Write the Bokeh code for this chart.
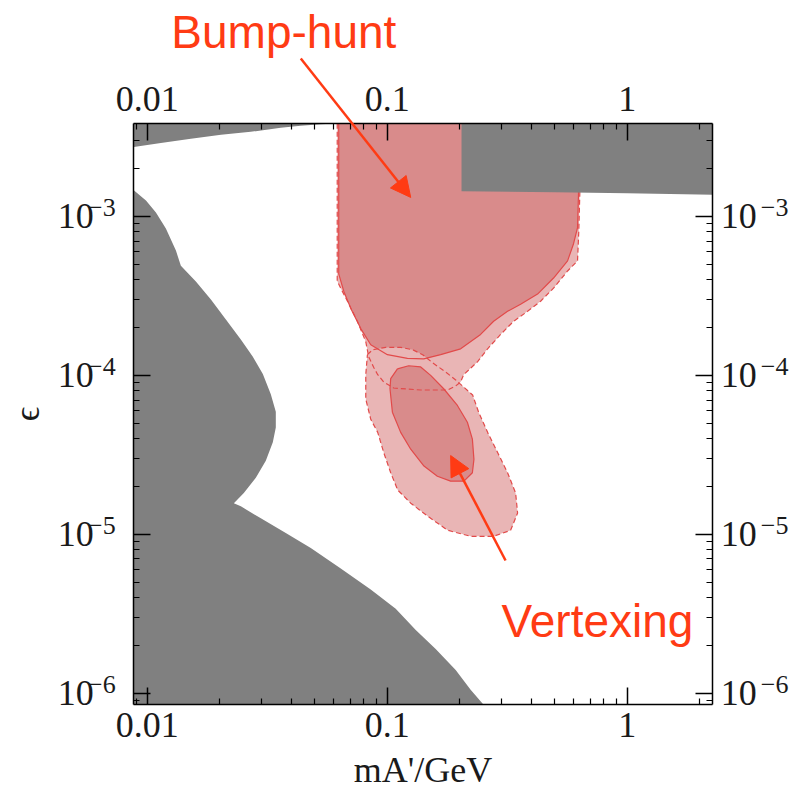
from bokeh.plotting import figure
from bokeh.models import Range1d, LogAxis, FixedTicker, Label, Arrow, NormalHead
from bokeh.embed import file_html
from bokeh.resources import INLINE

# ---- plotted box: dark-photon mass (GeV) and kinetic mixing epsilon ----
X_LO, X_HI = 0.00879, 2.274
Y_LO, Y_HI = 8.45e-7, 3.83e-3
# visible extent of the whole canvas (margins hold tick labels and notes)
view_x = (0.002447, 4.931)
view_y = (2.112e-7, 0.02287)

mass_ticks = [0.01, 0.1, 1]
mass_tick_labels = ["0.01", "0.1", "1"]
mass_minor = [0.009] + [k * 0.01 for k in range(2, 10)] + [k * 0.1 for k in range(2, 10)] + [2.0]

eps_ticks = [1e-6, 1e-5, 1e-4, 1e-3]
eps_mantissa = ["10", "10", "10", "10"]
eps_exponent = ["\u22126", "\u22125", "\u22124", "\u22123"]
eps_minor = ([9e-7] + [k * 1e-6 for k in range(2, 10)] + [k * 1e-5 for k in range(2, 10)]
             + [k * 1e-4 for k in range(2, 10)] + [2e-3, 3e-3])

# ---- existing exclusions (grey) ----
beamdump_m = [X_LO, 0.00988, 0.01087, 0.01196, 0.01317, 0.01381, 0.01595, 0.01842,
              0.02127, 0.02455, 0.02755, 0.03032, 0.03273, 0.03434, 0.03434, 0.03337, 0.03120,
              0.02835, 0.02527, 0.02296, 0.02455, 0.02975, 0.03779, 0.04803, 0.06404, 0.08537,
              0.1085, 0.1315, 0.1592, 0.1929, 0.2226, 0.2522, X_LO]
beamdump_eps = [1.46e-3, 1.26e-3, 1.06e-3, 8.4e-4, 6.1e-4, 4.9e-4, 3.9e-4, 3.0e-4,
                2.25e-4, 1.68e-4, 1.31e-4, 1.02e-4, 7.6e-5, 5.9e-5, 4.7e-5, 3.8e-5, 2.9e-5,
                2.27e-5, 1.82e-5, 1.57e-5, 1.5e-5, 1.26e-5, 1.02e-5, 8.2e-6, 6.1e-6, 4.5e-6,
                3.4e-6, 2.5e-6, 1.9e-6, 1.4e-6, 1.05e-6, Y_LO, Y_LO]

gminus2_m = [X_LO, X_LO, 0.0114, 0.0152, 0.0203, 0.0270, 0.0360, 0.0436, 0.0528, 0.0582]
gminus2_eps = [Y_HI, 2.74e-3, 2.90e-3, 3.08e-3, 3.27e-3, 3.41e-3, 3.62e-3, 3.72e-3, 3.80e-3, Y_HI]

collider_m = [0.204, 0.204, 0.50, 1.0, X_HI, X_HI]
collider_eps = [Y_HI, 1.44e-3, 1.42e-3, 1.40e-3, 1.37e-3, Y_HI]

# ---- bump-hunt reach (outer / inner contour) ----
bump_outer_m = [0.0619, 0.0619, 0.0640, 0.0683, 0.0751, 0.0814, 0.0837, 0.0879, 0.0913, 0.0967,
                0.1064, 0.1379, 0.1786, 0.1929, 0.2023, 0.2082, 0.2381, 0.2620, 0.2968, 0.3362,
                0.3845, 0.4356, 0.4933, 0.5644, 0.6209, 0.6286, 0.6347, 0.6389]
bump_outer_eps = [Y_HI, 3.92e-4, 3.54e-4, 2.93e-4, 2.19e-4, 1.63e-4, 1.31e-4, 1.12e-4, 1.01e-4, 9.09e-5,
                  8.33e-5, 8.09e-5, 8.09e-5, 8.58e-5, 9.09e-5, 1.01e-4, 1.22e-4, 1.47e-4, 1.81e-4, 2.19e-4,
                  2.53e-4, 2.93e-4, 3.54e-4, 4.54e-4, 5.26e-4, 8.15e-4, 1.40e-3, Y_HI]

bump_inner_m = [0.0628, 0.0628, 0.0659, 0.0705, 0.0776, 0.0854, 0.1002, 0.1214, 0.1419, 0.1670,
                0.2023, 0.2450, 0.2776, 0.3173, 0.3596, 0.4232, 0.4933, 0.5644, 0.5976, 0.6209,
                0.6269, 0.6269]
bump_inner_eps = [Y_HI, 4.35e-4, 3.39e-4, 2.64e-4, 1.97e-4, 1.56e-4, 1.35e-4, 1.28e-4, 1.27e-4, 1.35e-4,
                  1.47e-4, 1.81e-4, 2.19e-4, 2.53e-4, 2.80e-4, 3.25e-4, 4.10e-4, 5.26e-4, 6.74e-4, 8.52e-4,
                  1.40e-3, Y_HI]

# ---- vertexing reach (outer / inner contour) ----
vtx_outer_m = [0.0827, 0.0870, 0.0986, 0.1138, 0.1277, 0.1405, 0.1547, 0.1752, 0.1929, 0.2082,
               0.2270, 0.2404, 0.2620, 0.2884, 0.3173, 0.3428, 0.3494, 0.3267, 0.2776, 0.2227,
               0.1786, 0.1474, 0.1253, 0.1106, 0.1034, 0.0967, 0.0913, 0.0854, 0.0814, 0.0814]
vtx_outer_eps = [1.35e-4, 1.45e-4, 1.50e-4, 1.50e-4, 1.45e-4, 1.35e-4, 1.20e-4, 1.05e-4, 9.36e-5, 8.45e-5,
                 7.52e-5, 5.87e-5, 4.38e-5, 3.27e-5, 2.44e-5, 1.82e-5, 1.36e-5, 1.06e-5, 9.71e-6, 9.71e-6,
                 1.06e-5, 1.30e-5, 1.57e-5, 1.90e-5, 2.44e-5, 3.27e-5, 4.38e-5, 5.29e-5, 7.09e-5, 1.01e-4]

vtx_inner_m = [0.1103, 0.1229, 0.1379, 0.1517, 0.1719, 0.1961, 0.2158, 0.2264, 0.2298, 0.2264,
               0.2088, 0.1838, 0.1618, 0.1423, 0.1253, 0.1138, 0.1051, 0.1027, 0.1034]
vtx_inner_eps = [1.10e-4, 1.15e-4, 1.13e-4, 1.00e-4, 8.24e-5, 6.47e-5, 5.07e-5, 3.97e-5, 2.96e-5, 2.44e-5,
                 2.16e-5, 2.16e-5, 2.32e-5, 2.69e-5, 3.43e-5, 4.38e-5, 5.87e-5, 8.24e-5, 9.54e-5]

# ---- annotations ----
note_text = ["Bump-hunt", "Vertexing"]
note_m = [0.0371, 0.752]
note_eps = [0.01439, 2.83e-6]
arrow_m_start = [0.04364, 0.3113]
arrow_eps_start = [9.87e-3, 6.84e-6]
arrow_m_end = [0.1253, 0.1838]
arrow_eps_end = [1.318e-3, 3.13e-5]

GREY = "#808080"
FILL_INNER = "#D98B8B"
FILL_OUTER = "#E9B5B5"
EDGE = "#E24A4A"
NOTE = "#FF3B14"
INK = "#1a1a1a"
SERIF = "Liberation Serif"

p = figure(width=793, height=800, x_axis_type="log", y_axis_type="log",
           x_range=Range1d(*view_x), y_range=Range1d(*view_y),
           output_backend="svg", toolbar_location=None, min_border=0)
p.title.visible = False
p.grid.visible = False
p.background_fill_color = "white"
p.border_fill_color = "white"
p.outline_line_color = None

# grey excluded regions
p.patch(beamdump_m, beamdump_eps, fill_color=GREY, line_color=None)
p.patch(gminus2_m, gminus2_eps, fill_color=GREY, line_color=None)

# projected reach contours
p.patch(bump_outer_m, bump_outer_eps, fill_color=FILL_OUTER, line_color=None)
p.patch(bump_inner_m, bump_inner_eps, fill_color=FILL_INNER, line_color=None)
p.patch(vtx_outer_m, vtx_outer_eps, fill_color=FILL_OUTER, line_color=None)
p.patch(vtx_inner_m, vtx_inner_eps, fill_color=FILL_INNER, line_color=None)

p.line(bump_outer_m, bump_outer_eps, line_color=EDGE, line_width=1.2, line_dash="5 3")
p.line(vtx_outer_m + vtx_outer_m[:1], vtx_outer_eps + vtx_outer_eps[:1],
       line_color=EDGE, line_width=1.2, line_dash="5 3")
p.line(bump_inner_m, bump_inner_eps, line_color=EDGE, line_width=1.2)
p.line(vtx_inner_m + vtx_inner_m[:1], vtx_inner_eps + vtx_inner_eps[:1],
       line_color=EDGE, line_width=1.2)

p.patch(collider_m, collider_eps, fill_color=GREY, line_color=None)

# ---- frame axes on all four sides of the box, ticks pointing inward ----
bottom = p.below[0]
left = p.left[0]
top = LogAxis()
right = LogAxis()
p.add_layout(top, "above")
p.add_layout(right, "right")

bottom.fixed_location = Y_LO
top.fixed_location = Y_HI
left.fixed_location = X_LO
right.fixed_location = X_HI

for ax in (bottom, top):
    ax.bounds = (X_LO, X_HI)
    ax.ticker = FixedTicker(ticks=mass_ticks, minor_ticks=mass_minor)
    ax.major_label_overrides = dict(zip(mass_ticks, mass_tick_labels))
for ax in (left, right):
    ax.bounds = (Y_LO, Y_HI)
    ax.ticker = FixedTicker(ticks=eps_ticks, minor_ticks=eps_minor)
    ax.major_label_overrides = dict(zip(eps_ticks, eps_mantissa))

for ax in (bottom, top, left, right):
    ax.major_tick_in = 17
    ax.major_tick_out = 0
    ax.minor_tick_in = 6
    ax.minor_tick_out = 0
    ax.axis_line_color = "black"
    ax.axis_line_width = 1.5
    ax.major_tick_line_width = 1.5
    ax.minor_tick_line_width = 1.2
    ax.major_label_text_font = SERIF
    ax.major_label_text_font_size = "36px"
    ax.major_label_text_color = INK

bottom.major_label_standoff = 8
top.major_label_standoff = 13
left.major_label_standoff = 40
right.major_label_standoff = 8

# raised exponents of the epsilon tick labels
sup_ticks = [t * 10 ** 0.057 for t in eps_ticks]
for side, loc, standoff in (("left", X_LO, 12), ("right", X_HI, 42)):
    sup = LogAxis(fixed_location=loc)
    sup.ticker = FixedTicker(ticks=sup_ticks, minor_ticks=[])
    sup.major_label_overrides = dict(zip(sup_ticks, eps_exponent))
    sup.axis_line_color = None
    sup.major_tick_line_color = None
    sup.minor_tick_line_color = None
    sup.major_label_standoff = standoff
    sup.major_label_text_font = SERIF
    sup.major_label_text_font_size = "26px"
    sup.major_label_text_color = INK
    p.add_layout(sup, side)

bottom.axis_label = "mA'/GeV"
left.axis_label = "ϵ"
for ax in (bottom, left):
    ax.axis_label_text_font = SERIF
    ax.axis_label_text_font_size = "36px"
    ax.axis_label_text_font_style = "normal"
    ax.axis_label_text_color = INK
bottom.axis_label_standoff = 10
left.axis_label_standoff = 8

# labelled arrows
for txt, xm, ye in zip(note_text, note_m, note_eps):
    p.add_layout(Label(x=xm, y=ye, text=txt, text_align="center", text_baseline="middle",
                       text_font="Liberation Sans", text_font_size="46px", text_color=NOTE))
for xs, ys, xe, ye in zip(arrow_m_start, arrow_eps_start, arrow_m_end, arrow_eps_end):
    p.add_layout(Arrow(x_start=xs, y_start=ys, x_end=xe, y_end=ye,
                       line_color=NOTE, line_width=2.5,
                       end=NormalHead(size=20, fill_color=NOTE, line_color=NOTE)))

open("out.html", "w").write(file_html(p, INLINE))
